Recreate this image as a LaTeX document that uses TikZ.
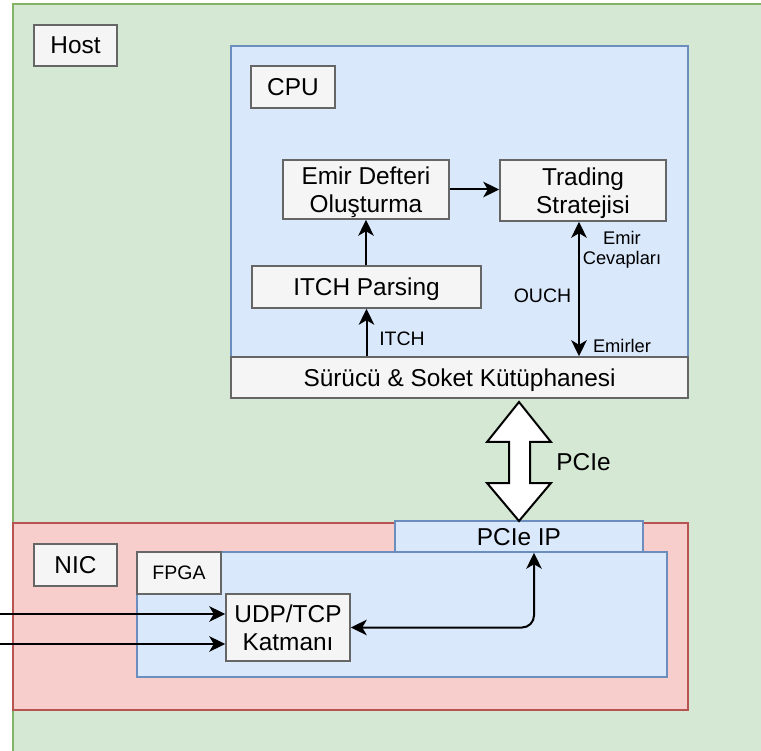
\documentclass[tikz,border=0pt]{standalone}
\usepackage{fontspec}
\setmainfont{Liberation Sans}
\usetikzlibrary{arrows.meta}
\definecolor{hostfill}{HTML}{D5E8D4}
\definecolor{hostdraw}{HTML}{82B366}
\definecolor{bluefill}{HTML}{DAE8FC}
\definecolor{bluedraw}{HTML}{6C8EBF}
\definecolor{redfill}{HTML}{F8CECC}
\definecolor{reddraw}{HTML}{B85450}
\definecolor{grayfill}{HTML}{F5F5F5}
\definecolor{graydraw}{HTML}{666666}
\begin{document}
\begin{tikzpicture}[x=1pt,y=-1pt,
  bigfont/.style={font=\fontsize{24.4}{28}\selectfont},
  smallfont/.style={font=\fontsize{19.5}{21}\selectfont},
  tinyfont/.style={font=\fontsize{18.3}{20}\selectfont},
  graybox/.style={draw=graydraw, fill=grayfill, line width=1.5pt, inner sep=0pt, align=center, text depth=0pt, bigfont},
  hostregion/.style={draw=hostdraw, fill=hostfill, line width=1.5pt},
  blueregion/.style={draw=bluedraw, fill=bluefill, line width=1.5pt},
  redregion/.style={draw=reddraw, fill=redfill, line width=1.5pt},
  lbl/.style={inner sep=0pt, align=center, text depth=0pt},
  tip/.tip={Stealth[length=16pt,width=15.5pt,inset=4.5pt]},
  conn/.style={line width=2pt, -tip},
  biconn/.style={line width=2pt, tip-tip},
  bigarrow/.style={draw=black, fill=white, line width=2pt, line join=miter},
]
\useasboundingbox (0,0) rectangle (761,751);
\clip (0,0) rectangle (761,751);

% Host region
\draw[hostregion] (13,4) rectangle (800,800);
\node[graybox, minimum width=83pt, minimum height=41pt] (hostlbl) at (75.5,45.5) {Host};

% CPU region
\draw[blueregion] (231,46) rectangle (688,398);
\node[graybox, minimum width=84pt, minimum height=42pt] (cpulbl) at (293,87) {CPU};

\node[graybox, minimum width=166pt, minimum height=59pt] (emir) at (366,189.5) {Emir Defteri\\Oluşturma};
\node[graybox, minimum width=166pt, minimum height=61pt] (trading) at (583,190.5) {Trading\\Stratejisi};
\node[graybox, minimum width=229pt, minimum height=42pt] (itch) at (366.5,287) {ITCH Parsing};
\node[graybox, minimum width=457pt, minimum height=41pt] (drv) at (459.5,377.5) {Sürücü \& Soket Kütüphanesi};

% CPU connectors
\draw[conn] (itch.north -| emir.south) -- (emir.south);
\draw[conn] (emir.east) -- (emir.east -| trading.west);
\draw[conn] (drv.north -| itch.south) -- (itch.south);
\coordinate (ouchx) at (579,0);
\draw[biconn] (trading.south -| ouchx) -- (drv.north -| ouchx);

\node[lbl, smallfont] (itchlbl) at (402,339) {ITCH};
\node[lbl, smallfont] (ouchlbl) at (542.5,295.5) {OUCH};
\node[lbl, tinyfont] (cevlbl) at (622,247.5) {Emir\\Cevapları};
\node[lbl, tinyfont] (emirlerlbl) at (622,346) {Emirler};

% NIC region
\draw[redregion] (13,523) rectangle (688,710);
\node[graybox, minimum width=83pt, minimum height=42pt] (niclbl) at (75.5,565) {NIC};

\node[draw=bluedraw, fill=bluefill, line width=1.5pt, inner sep=0pt, text depth=0pt, bigfont, minimum width=248pt, minimum height=31pt] (pcieip) at (519,536.5) {PCIe IP};
\draw[blueregion] (137,552) rectangle (667,677);
\node[graybox, smallfont, minimum width=84pt, minimum height=42pt] (fpgalbl) at (179,573) {FPGA};

\node[graybox, minimum width=124pt, minimum height=67pt] (udp) at (288,627.5) {UDP/TCP\\Katmanı};

% big PCIe double arrow
\draw[bigarrow] (519,402) -- (551,442) -- (530,442) -- (530,483) -- (551,483) -- (519,521)
  -- (487,483) -- (509,483) -- (509,442) -- (487,442) -- cycle;
\node[lbl, bigfont] (pcielbl) at (583.5,461.5) {PCIe};

% inputs
\coordinate (in1) at (-5,614);
\coordinate (in2) at (-5,644);
\draw[conn] (in1) -- (in1 -| udp.west);
\draw[conn] (in2) -- (in2 -| udp.west);

% UDP <-> PCIe IP
\draw[biconn, rounded corners=12pt] (udp.east) -| ([xshift=15pt]pcieip.south);
\end{tikzpicture}
\end{document}
